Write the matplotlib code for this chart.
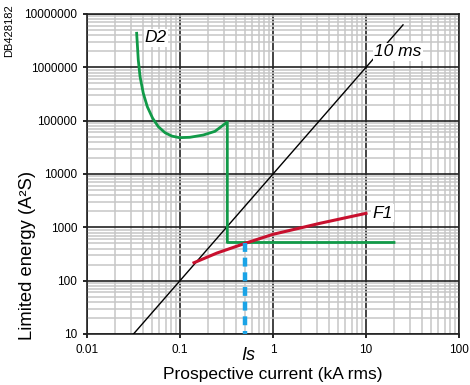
import numpy as np
import matplotlib
matplotlib.use("Agg")
import matplotlib.pyplot as plt
from matplotlib.ticker import LogLocator, FixedLocator, NullFormatter

plt.rcParams["font.family"] = ["Liberation Sans", "DejaVu Sans"]

# curva D2 (kA, A2s)
d2_x = [0.0342, 0.0356, 0.0372, 0.0403, 0.0445, 0.0508, 0.0585, 0.069, 0.0814, 0.0983,
        0.128, 0.178, 0.238, 0.3226, 0.3226, 20]
d2_y = [4.35e6, 1.37e6, 6.67e5, 3.26e5, 1.83e5, 1.11e5, 7.7e4, 5.95e4, 5.15e4, 4.8e4,
        4.88e4, 5.38e4, 6.32e4, 9.44e4, 520, 520]

# curva F1
f1_x = [0.1414, 0.25, 0.5, 1.0, 2.1, 3.2, 10.0]
f1_y = [217, 330, 500, 740, 1000, 1190, 1830]

# recta 10 ms
ms_x = [0.0316, 25.0]
ms_tiempo = 0.01  # s

i_s = 0.5
xticks = [0.01, 0.1, 1, 10, 100]
xtick_labels = ["0.01", "0.1", "1", "10", "100"]
yticks = [10, 100, 1000, 10000, 100000, 1000000, 10000000]
ytick_labels = ["10", "100", "1000", "10000", "100000", "1000000", "10000000"]

fig = plt.figure(figsize=(4.7, 3.85), dpi=100)
ax = fig.add_axes([87 / 470, 1 - 334 / 385, 372 / 470, 320 / 385])
ax.set_xscale("log")
ax.set_yscale("log")
ax.set_xlim(0.01, 100)
ax.set_ylim(10, 1e7)

ax.xaxis.set_minor_locator(LogLocator(base=10, subs=np.arange(2, 10)))
ax.yaxis.set_minor_locator(LogLocator(base=10, subs=np.arange(2, 10)))
ax.xaxis.set_minor_formatter(NullFormatter())
ax.yaxis.set_minor_formatter(NullFormatter())
ax.grid(True, which="minor", color="#c6c6c6", lw=1.1, zorder=0)
ax.grid(True, which="major", color="#222222", lw=1.2, zorder=1)
ax.set_axisbelow(True)

ax.xaxis.set_major_locator(FixedLocator(xticks))
ax.yaxis.set_major_locator(FixedLocator(yticks))
ax.set_xticklabels(xtick_labels)
ax.set_yticklabels(ytick_labels)
ax.tick_params(which="major", length=3, width=1.2, labelsize=8.5, color="black", pad=4)
ax.tick_params(which="minor", length=0)
for s in ax.spines.values():
    s.set_linewidth(1.2)
    s.set_color("#222222")

# 10 ms
ms_y = [(x * 1000) ** 2 * ms_tiempo for x in ms_x]
ax.plot(ms_x, ms_y, color="black", lw=1.0, zorder=3)

ax.plot(d2_x, d2_y, color="#119a48", lw=2.0, zorder=4, solid_joinstyle="round")
ax.plot(f1_x, f1_y, color="#c8102e", lw=2.2, zorder=5, solid_joinstyle="round")
ax.plot([i_s, i_s], [500, 10], color="#1aa3e6", lw=3.2, ls=(0, (2.0, 1.3)), zorder=6, clip_on=False)

ax.text(0.042, 3.6e6, "D2", fontsize=12.5, style="italic", ha="left", va="center",
        bbox=dict(facecolor="white", edgecolor="none", pad=1), zorder=7)
ax.text(11.8, 1.85e3, "F1", fontsize=12.5, style="italic", ha="left", va="center",
        bbox=dict(facecolor="white", edgecolor="none", pad=1), zorder=7)
ax.text(12.3, 1.95e6, "10 ms", fontsize=12.5, style="italic", ha="left", va="center",
        bbox=dict(facecolor="white", edgecolor="none", pad=1), zorder=7)

fig.text(248 / 470, 1 - 355 / 385, "Is", fontsize=13, style="italic", ha="center", va="center")
fig.text(273 / 470, 1 - 374 / 385, "Prospective current (kA rms)", fontsize=12.5,
         ha="center", va="center")
fig.text(28 / 470, 1 - 255 / 385, "Limited energy (A²S)", fontsize=13.2, rotation=90,
         ha="center", va="center")
fig.text(9 / 470, 1 - 31 / 385, "DB428182", fontsize=8, rotation=90, ha="center", va="center")

fig.savefig("out.png", dpi=100)
